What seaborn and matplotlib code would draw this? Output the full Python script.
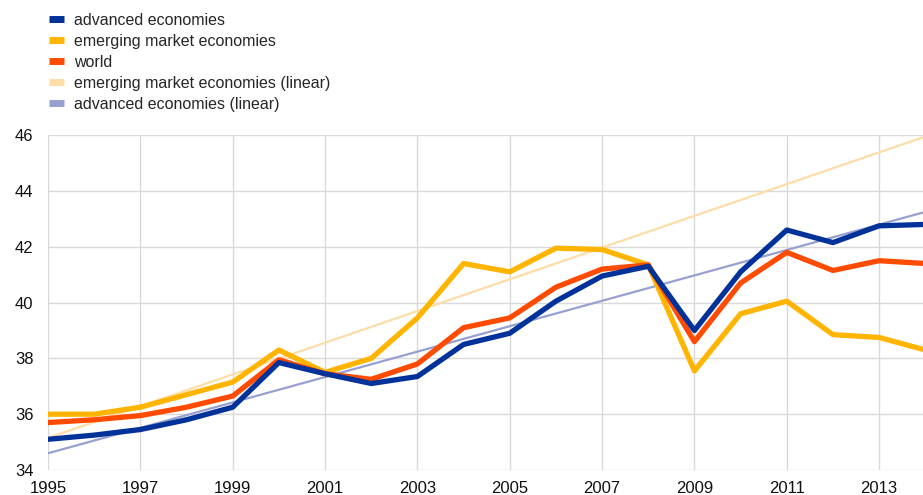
import numpy as np
import pandas as pd
import seaborn as sns
import matplotlib.pyplot as plt
from matplotlib.lines import Line2D

# data
years = list(range(1995, 2015))
advanced = [35.1, 35.25, 35.45, 35.8, 36.25, 37.85, 37.45, 37.1, 37.35, 38.5,
            38.9, 40.05, 40.95, 41.3, 39.0, 41.1, 42.6, 42.15, 42.75, 42.8]
emerging = [36.0, 36.0, 36.25, 36.7, 37.15, 38.3, 37.5, 38.0, 39.45, 41.4,
            41.1, 41.95, 41.9, 41.35, 37.55, 39.6, 40.05, 38.85, 38.75, 38.3]
world = [35.7, 35.8, 35.95, 36.25, 36.65, 37.95, 37.45, 37.25, 37.8, 39.1,
         39.45, 40.55, 41.2, 41.35, 38.6, 40.7, 41.8, 41.15, 41.5, 41.4]
trend_years = [1995, 2014]
emerging_linear = [35.15, 45.95]
advanced_linear = [34.6, 43.25]

labels = ['advanced economies', 'emerging market economies', 'world',
          'emerging market economies (linear)', 'advanced economies (linear)']
colors = ['#003299', '#FFB400', '#FF4B00', '#FDDDA8', '#98A0D0']

sns.set_style('white')
plt.rcParams['font.family'] = ['Liberation Sans', 'DejaVu Sans']

fig = plt.figure(figsize=(9.23, 4.95), dpi=100)
ax = fig.add_axes([0.052, 0.0505, 0.948, 0.6765])

# trend lines first, then the actual series on top
sns.lineplot(x=trend_years, y=emerging_linear, color=colors[3], lw=1.6, ax=ax)
sns.lineplot(x=trend_years, y=advanced_linear, color=colors[4], lw=1.6, ax=ax)
sns.lineplot(x=years, y=emerging, color=colors[1], lw=3.8, ax=ax)
sns.lineplot(x=years, y=world, color=colors[2], lw=3.8, ax=ax)
sns.lineplot(x=years, y=advanced, color=colors[0], lw=3.8, ax=ax)

ax.set_xlim(1995, 2013.95)
ax.set_ylim(34, 46)
ax.set_xticks(range(1995, 2014, 2))
ax.set_yticks(range(34, 47, 2))
ax.grid(True, color='#d9d9d9', lw=1)
for s in ax.spines.values():
    s.set_visible(False)
ax.tick_params(axis='both', length=0, labelsize=12, colors='#111111')
ax.tick_params(axis='x', pad=8)
ax.tick_params(axis='y', pad=10.5)
ax.set_xlabel('')
ax.set_ylabel('')

handles = [Line2D([0], [0], color=c, lw=5, solid_capstyle='butt') for c in colors]
fig.legend(handles, labels, loc='upper left', bbox_to_anchor=(0.039, 1.0),
           frameon=False, fontsize=11.5, handlelength=0.95, handletextpad=0.65,
           labelspacing=0.38, borderaxespad=0.4)

fig.savefig('out.png', dpi=100)
